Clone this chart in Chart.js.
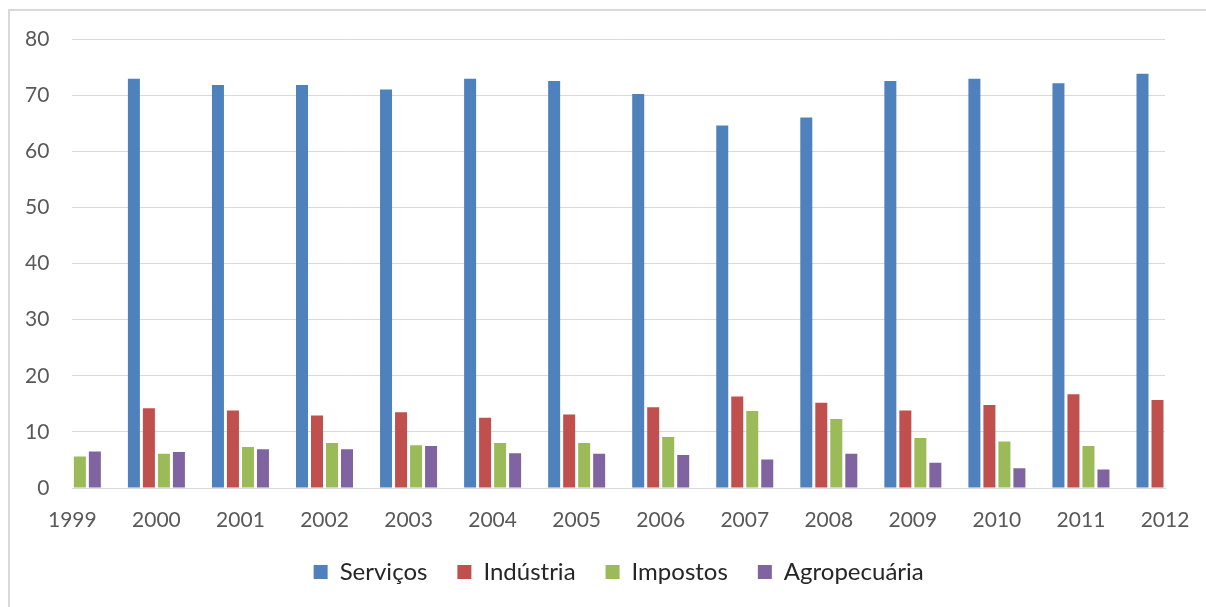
<!DOCTYPE html>
<html>
<head>
<meta charset="utf-8">
<script src="https://cdn.jsdelivr.net/npm/chart.js@4.4.0/dist/chart.umd.min.js"></script>
<style>
  html, body { margin: 0; padding: 0; background: #ffffff; overflow: hidden; }
  #frame {
    position: absolute; left: 8px; top: 9px;
    width: 1300px; height: 700px;
    border: 2px solid #d9d9d9;
  }
  #wrap { position: absolute; left: 0; top: 0; width: 1206px; height: 607px; }
</style>
</head>
<body>
<div id="frame"></div>
<div id="wrap"><canvas id="PibChart"></canvas></div>
<script>
// anos
const anos = ['1999', '2000', '2001', '2002', '2003', '2004', '2005', '2006', '2007', '2008', '2009', '2010', '2011', '2012'];

// participação no PIB (%)
const servicos =     [73.0, 72.9, 71.8, 71.8, 71.0, 72.9, 72.5, 70.2, 64.6, 66.0, 72.5, 72.9, 72.1, 73.8];
const industria =    [14.0, 14.2, 13.8, 12.9, 13.5, 12.5, 13.1, 14.4, 16.3, 15.2, 13.8, 14.8, 16.7, 15.7];
const impostos =     [5.6, 6.1, 7.3, 8.0, 7.6, 8.0, 8.0, 9.1, 13.7, 12.3, 8.9, 8.3, 7.5, 7.1];
const agropecuaria = [6.5, 6.4, 6.9, 6.9, 7.5, 6.2, 6.1, 5.9, 5.1, 6.1, 4.5, 3.5, 3.3, 3.4];

const eixoY = [0, 10, 20, 30, 40, 50, 60, 70, 80];

const fonte = "Lato, 'Open Sans', sans-serif";

function serie(label, values, color) {
    return {
        label: label,
        data: values,
        backgroundColor: color,
        borderWidth: 0,
        clip: 0,
        categoryPercentage: 0.714,
        barPercentage: 0.8
    };
}

const config_pib = {
    type: 'bar',
    data: {
        labels: anos,
        datasets: [
            serie('Serviços', servicos, '#4f81bd'),
            serie('Indústria', industria, '#c0504d'),
            serie('Impostos', impostos, '#9bbb59'),
            serie('Agropecuária', agropecuaria, '#8064a2')
        ]
    },
    options: {
        responsive: false,
        animation: false,
        devicePixelRatio: 1,
        layout: {
            padding: { left: 2, right: 41, top: 39, bottom: 13 }
        },
        plugins: {
            tooltip: { enabled: false },
            legend: {
                position: 'bottom',
                fullSize: false,
                labels: {
                    boxWidth: 14,
                    boxHeight: 14,
                    padding: 30,
                    color: '#262626',
                    font: { family: fonte, size: 24 }
                }
            }
        },
        scales: {
            x: {
                offset: false,
                grid: { display: false, offset: false, drawTicks: false },
                border: { display: true, color: '#d9d9d9', width: 1 },
                ticks: {
                    color: '#595959',
                    // mirror + negative padding: labels sit below the axis without being clipped
                    padding: -34,
                    mirror: true,
                    maxRotation: 0,
                    autoSkip: false,
                    font: { family: fonte, size: 21, lineHeight: 0.2 }
                },
                // room between the axis and the legend
                afterFit: function (axis) {
                    axis.height = 42;
                }
            },
            y: {
                min: 0,
                max: 80,
                afterBuildTicks: function (axis) {
                    axis.ticks = eixoY.map(v => ({ value: v }));
                },
                grid: { color: '#d9d9d9', drawTicks: false, lineWidth: 1 },
                border: { display: false },
                ticks: {
                    color: '#595959',
                    padding: 23,
                    font: { family: fonte, size: 21 }
                }
            }
        }
    }
};

const canvas = document.getElementById('PibChart');
canvas.width = 1206;
canvas.height = 607;

var PibChart = new Chart(canvas, config_pib);
</script>
</body>
</html>
